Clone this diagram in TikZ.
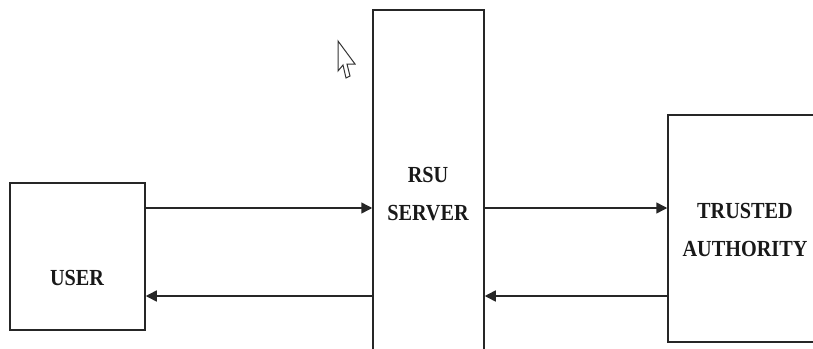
\documentclass[tikz,border=0pt]{standalone}
\usepackage{fontspec}
\setmainfont{Liberation Serif}
\newfontfamily\lblfont{Liberation Serif}[FakeStretch=0.88]
\usetikzlibrary{arrows.meta}
\begin{document}
\begin{tikzpicture}[x=1pt,y=-1pt,
  block/.style={draw=black!85,line width=1.5pt,fill=white,inner sep=0pt},
  lbl/.style={font=\lblfont\bfseries\fontsize{23}{38}\selectfont,align=center,text=black!90},
  flow/.style={line width=1.5pt,draw=black!85,-{Triangle[length=11pt,width=11pt]}}]
\useasboundingbox (0,0) rectangle (813,348);
\clip (0,0) rectangle (813,348);
% boxes (server runs off the bottom, authority off the right edge)
\node[block,minimum width=135pt,minimum height=147pt] (user) at (77.5,256.5) {};
\node[block,minimum width=111pt,minimum height=360pt] (rsu) at (428.5,190) {};
\node[block,minimum width=170pt,minimum height=227pt] (ta) at (753,228.5) {};
% labels
\node[lbl] (userlbl) at (77,278) {USER};
\node[lbl] (rsulbl) at (428,194) {RSU\\SERVER};
\node[lbl] (talbl) at (745,230) {TRUSTED\\AUTHORITY};
% message flows
\coordinate (u1) at (user.east |- 0,208);
\coordinate (u2) at (user.east |- 0,296);
\coordinate (r1) at (rsu.west |- 0,208);
\coordinate (r2) at (rsu.west |- 0,296);
\coordinate (r3) at (rsu.east |- 0,208);
\coordinate (r4) at (rsu.east |- 0,296);
\coordinate (t1) at (ta.west |- 0,208);
\coordinate (t2) at (ta.west |- 0,296);
\draw[flow] (u1) -- (r1);
\draw[flow] (r2) -- (u2);
\draw[flow] (r3) -- (t1);
\draw[flow] (t2) -- (r4);
% mouse pointer
\draw[fill=white,draw=black!80,line width=1pt,line join=miter]
  (338,41) -- (338,71) -- (343,65) -- (346,78) -- (350,76) -- (347,64) -- (355,64) -- cycle;
\end{tikzpicture}
\end{document}
